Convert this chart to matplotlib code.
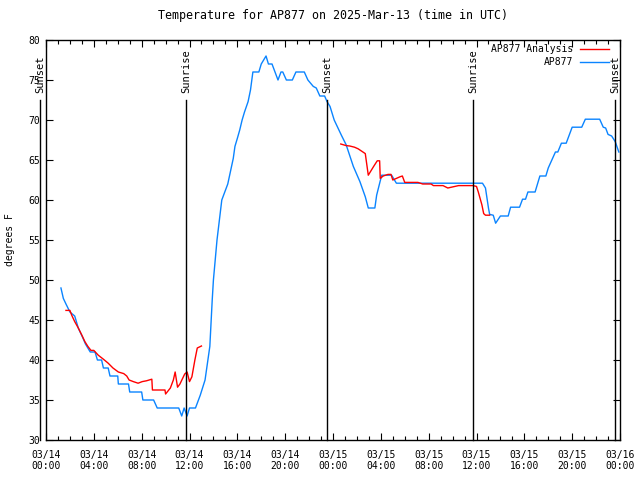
"""
Temperature for AP877 - observations vs analysis, with sunrise/sunset marks.
"""

import numpy as np
import pandas as pd
import matplotlib
matplotlib.use("Agg")
import matplotlib.pyplot as plt
import matplotlib.dates as mdates
from matplotlib.ticker import MultipleLocator

START = pd.Timestamp("2025-03-14 00:00")

# AP877 observations (hours after 03/14 00:00 UTC, degrees F)
obs_hours = [1.25, 1.45, 1.67, 2.0, 2.4, 2.7, 3.1, 3.3, 3.7, 4.1, 4.3, 4.65, 4.8, 5.2,
             5.35, 6.0, 6.05, 6.9, 7.0, 8.0, 8.1, 9.0, 9.3, 11.1, 11.35, 11.55, 11.8,
             12.0, 12.5, 12.9, 13.3, 13.7, 13.9, 14.0, 14.3, 14.7, 15.2, 15.66, 15.8,
             16.0, 16.2, 16.4, 16.6, 16.9, 17.1, 17.3, 17.8, 18.0, 18.4, 18.6, 18.9,
             19.4, 19.65, 19.8, 20.1, 20.6, 20.9, 21.6, 21.9, 22.35, 22.6, 22.9, 23.3,
             23.5, 23.75, 24.1, 24.7, 25.1, 25.7, 26.25, 26.7, 26.95, 27.5, 27.65,
             28.07, 28.9, 29.3, 36.5, 36.75, 36.9, 37.0, 37.1, 37.4, 37.6, 38.0, 38.65,
             38.85, 39.6, 39.85, 40.1, 40.3, 40.9, 41.1, 41.3, 41.8, 42.0, 42.6, 42.8,
             43.1, 43.5, 43.75, 44.0, 44.8, 45.1, 46.3, 46.6, 46.8, 47.0, 47.3, 47.6,
             47.9]
obs_temp = [49, 47.7, 47, 46, 45.5, 44, 42.7, 42, 41, 41, 40, 40, 39, 39,
            38, 38, 37, 37, 36, 36, 35, 35, 34, 34, 33, 34, 33,
            34, 34, 35.6, 37.5, 41.7, 47.5, 50, 55, 60, 62, 65.2, 66.7,
            67.7, 68.75, 70, 71, 72.3, 73.75, 76, 76, 77, 78, 77, 77,
            75, 76, 76, 75, 75, 76, 76, 75, 74.2, 74, 73, 73,
            72.3, 71.7, 70, 68.1, 66.9, 64.2, 62.3, 60.4, 59, 59, 60.6,
            63.1, 63.1, 62.1, 62.1, 61.5, 60, 59, 58.2, 58.1, 57.1, 58, 58,
            59.1, 59.1, 60.1, 60.1, 61, 61, 62, 63, 63, 64, 66, 66,
            67.1, 67.1, 68.1, 69.1, 69.1, 70.1, 70.1, 69.1, 69, 68.2, 68, 67.3,
            66]

# AP877 Analysis (NaN splits the two runs)
ana_hours = [1.67, 2.0, 2.15, 2.4, 2.7, 3.0, 3.25, 3.5, 3.76, 4.0, 4.37, 4.8, 5.2, 5.6,
             6.05, 6.5, 6.75, 6.95, 7.3, 7.7, 8.05, 8.4, 8.85, 8.9, 9.95, 10.0, 10.4,
             10.65, 10.8, 11.0, 11.2, 11.6, 11.8, 12.0, 12.2, 12.45, 12.65, 13.0,
             18.0,
             24.65, 25.1, 25.4, 25.8, 26.1, 26.4, 26.7, 26.95, 27.4, 27.7, 27.9, 27.95,
             28.2, 28.6, 28.85, 29.0, 29.3, 29.6, 29.8, 30.0, 31.1, 31.5, 32.2, 32.4,
             33.2, 33.6, 33.9, 34.2, 34.5, 35.7, 36.0, 36.15, 36.3, 36.45, 36.6, 36.75,
             37.1]
ana_temp = [46.2, 46.2, 45.6, 44.8, 44, 43.1, 42.3, 41.7, 41.2, 41.2, 40.6, 40.1, 39.6, 39.0,
            38.5, 38.3, 38.0, 37.5, 37.3, 37.1, 37.3, 37.4, 37.6, 36.25, 36.25, 35.75, 36.5,
            37.5, 38.5, 36.6, 37, 38.25, 38.5, 37.3, 37.9, 40, 41.5, 41.75,
            np.nan,
            67.0, 66.8, 66.75, 66.6, 66.4, 66.1, 65.8, 63.1, 64.2, 64.9, 64.9, 62.7,
            63.0, 63.2, 63.2, 62.5, 62.7, 62.9, 63.0, 62.2, 62.2, 62.0, 62.0, 61.8,
            61.8, 61.5, 61.6, 61.7, 61.8, 61.8, 61.7, 61, 60.2, 59.4, 58.3, 58.1,
            58.1]

# sun events (hours after 03/14 00:00 UTC)
sun_hours = [-0.5, 11.7, 23.5, 35.7, 47.6]
sun_labels = ["Sunset", "Sunrise", "Sunset", "Sunrise", "Sunset"]

RED = "#ff0000"
BLUE = "#0a84ff"


def to_times(hours):
    return START + pd.to_timedelta(np.asarray(hours, dtype=float), unit="h")


plt.rcParams["font.family"] = ["DejaVu Sans Mono"]
plt.rcParams["font.size"] = 7

fig = plt.figure(figsize=(6.4, 4.8), dpi=100)
ax = fig.add_axes([46 / 640, 40 / 480, 574 / 640, 400 / 480])

ax.plot(to_times(obs_hours), obs_temp, color=BLUE, lw=1.0)
ax.plot(to_times(ana_hours), ana_temp, color=RED, lw=1.0)

for h, lab in zip(sun_hours, sun_labels):
    t = mdates.date2num(to_times([h])[0])
    ax.plot([t, t], [0, 0.85], color="black", lw=1.0,
            transform=ax.get_xaxis_transform(), clip_on=False)
    ax.text(t, 0.868, lab, rotation=90, ha="center", va="bottom", fontsize=7.5,
            transform=ax.get_xaxis_transform(), clip_on=False)

ax.set_xlim(to_times([0])[0], to_times([48])[0])
ax.set_ylim(30, 80)
ax.yaxis.set_major_locator(MultipleLocator(5))
ax.xaxis.set_major_locator(mdates.HourLocator(byhour=range(0, 24, 4)))
ax.xaxis.set_minor_locator(mdates.HourLocator(byhour=[h for h in range(24) if h % 4 != 0]))
ax.xaxis.set_major_formatter(mdates.DateFormatter("%m/%d\n%H:%M"))
ax.tick_params(direction="in", top=True, right=True, length=5, width=0.8)
ax.tick_params(axis="x", pad=7)
ax.tick_params(axis="y", pad=4)
ax.tick_params(which="minor", direction="in", top=True, right=True, length=3, width=0.8)
for s in ax.spines.values():
    s.set_linewidth(1.0)

ax.set_title("Temperature for AP877 on 2025-Mar-13 (time in UTC)", pad=15)
ax.set_ylabel("degrees F", labelpad=10)

# legend, gnuplot style: right-aligned text with line sample
ax.text(0.919, 0.977, "AP877 Analysis", ha="right", va="center", transform=ax.transAxes)
ax.plot([0.93, 0.98], [0.977, 0.977], color=RED, lw=1.0, transform=ax.transAxes)
ax.text(0.919, 0.945, "AP877", ha="right", va="center", transform=ax.transAxes)
ax.plot([0.93, 0.98], [0.945, 0.945], color=BLUE, lw=1.0, transform=ax.transAxes)

fig.savefig("out.png", dpi=100)
plt.close(fig)
